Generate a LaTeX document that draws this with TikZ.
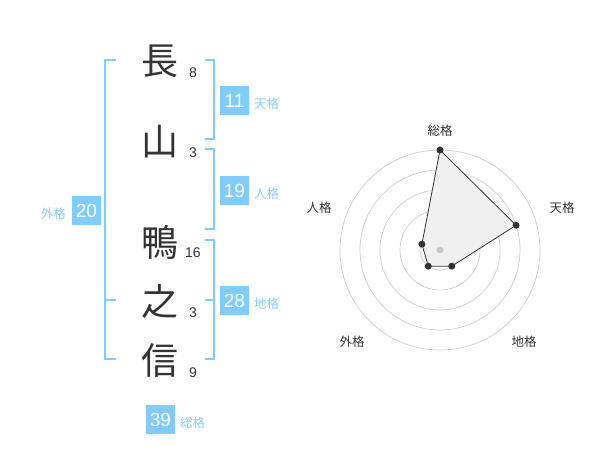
\documentclass[tikz,border=0pt]{standalone}
\usepackage{fontspec}
\setmainfont{Liberation Sans}
\newfontfamily\jp{Noto Sans CJK JP}
\definecolor{boxblue}{HTML}{80CCFF}
\definecolor{lblblue}{HTML}{88CCF2}
\definecolor{ink}{HTML}{333333}
\begin{document}
\begin{tikzpicture}[x=1pt,y=-1pt,
  kanji/.style={font=\jp\fontsize{37}{37}\selectfont, text=ink, inner sep=0pt},
  stroke/.style={font=\fontsize{14}{14}\selectfont, text=ink, inner sep=0pt},
  valbox/.style={fill=boxblue, text=white, font=\fontsize{19}{19}\selectfont, minimum width=29pt, minimum height=29pt, inner sep=0pt},
  gelbl/.style={font=\jp\fontsize{12.5}{12.5}\selectfont, text=lblblue, inner sep=0pt},
  brk/.style={draw=boxblue, line width=1.6pt},
  ring/.style={draw=black!20, line width=0.7pt},
  axlbl/.style={font=\jp\fontsize{12.5}{12.5}\selectfont, text=ink, inner sep=0pt},
  dot/.style={circle, fill=ink, inner sep=0pt, minimum size=7pt}]
\useasboundingbox (0,0) rectangle (600,470);
% kanji
\node[kanji] (k1) at (160,61) {長};
\node[kanji] (k2) at (160,142) {山};
\node[kanji] (k3) at (160,242) {鴨};
\node[kanji] (k4) at (160,301) {之};
\node[kanji] (k5) at (160,360) {信};
% stroke counts
\node[stroke] (s1) at (193,73) {8};
\node[stroke] (s2) at (193,153) {3};
\node[stroke] (s3) at (193,253) {16};
\node[stroke] (s4) at (193,313) {3};
\node[stroke] (s5) at (193,373) {9};
% brackets
\coordinate (a1) at (116,60); \coordinate (a2) at (105,60);
\coordinate (a3) at (105,359); \coordinate (a4) at (116,359);
\coordinate (a5) at (105,300); \coordinate (a6) at (116,300);
\draw[brk] (a1) -- (a2) -- (a3) -- (a4);
\draw[brk] (a5) -- (a6);
\coordinate (t1) at (205,60); \coordinate (t2) at (214,60);
\coordinate (t3) at (214,139); \coordinate (t4) at (205,139);
\draw[brk] (t1) -- (t2) -- (t3) -- (t4);
\coordinate (j1) at (205,149); \coordinate (j2) at (214,149);
\coordinate (j3) at (214,229); \coordinate (j4) at (205,229);
\draw[brk] (j1) -- (j2) -- (j3) -- (j4);
\coordinate (c1) at (205,240); \coordinate (c2) at (214,240);
\coordinate (c3) at (214,359); \coordinate (c4) at (205,359);
\coordinate (c5) at (214,300); \coordinate (c6) at (205,300);
\draw[brk] (c1) -- (c2) -- (c3) -- (c4);
\draw[brk] (c5) -- (c6);
% value boxes
\node[valbox] (b11) at (234.5,100.5) {11};
\node[gelbl, anchor=west] (g1) at (254,104) {天格};
\node[valbox] (b19) at (234.5,190.5) {19};
\node[gelbl, anchor=west] (g2) at (254,194) {人格};
\node[valbox] (b28) at (234.5,300.5) {28};
\node[gelbl, anchor=west] (g3) at (254,304) {地格};
\node[valbox] (b20) at (86.5,210.5) {20};
\node[gelbl, anchor=east] (g4) at (66,213.5) {外格};
\node[valbox] (b39) at (160.5,419.5) {39};
\node[gelbl, anchor=west] (g5) at (180,423) {総格};
% radar
\coordinate (O) at (440,250);
\foreach \r in {20,40,60,80,100} \draw[ring] (O) circle[radius=\r];
\path (440,250) + (0,-100) coordinate (p1);
\path (440,250) + ({80*cos(18)},{-80*sin(18)}) coordinate (p2);
\path (440,250) + ({20*cos(-54)},{-20*sin(-54)}) coordinate (p3);
\path (440,250) + ({20*cos(234)},{-20*sin(234)}) coordinate (p4);
\path (440,250) + ({19*cos(162)},{-19*sin(162)}) coordinate (p5);
\fill[black!6] (p1) -- (p2) -- (p3) -- (p4) -- (p5) -- cycle;
\draw[ink, line width=0.8pt] (p1) -- (p2) -- (p3) -- (p4) -- (p5) -- cycle;
\node[circle, fill=black!22, inner sep=0pt, minimum size=7pt] (ctr) at (O) {};
\node[dot] (d1) at (p1) {};
\node[dot] (d2) at (p2) {};
\node[dot] (d3) at (p3) {};
\node[dot] (d4) at (p4) {};
\node[dot] (d5) at (p5) {};
\node[axlbl] (l1) at (440,130.5) {総格};
\node[axlbl] (l2) at (562,208) {天格};
\node[axlbl] (l3) at (524,341.5) {地格};
\node[axlbl] (l4) at (352,341.5) {外格};
\node[axlbl] (l5) at (319,208) {人格};
\end{tikzpicture}
\end{document}
